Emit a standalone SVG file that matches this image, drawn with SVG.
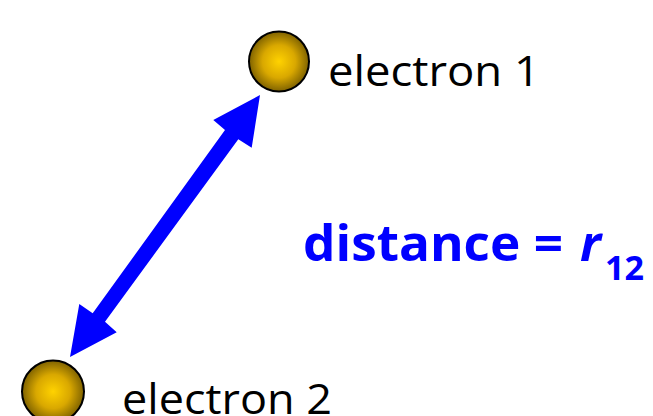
<svg xmlns="http://www.w3.org/2000/svg" width="653" height="416" viewBox="0 0 653 416">
<defs>
<radialGradient id="ball" cx="50%" cy="50%" r="50%">
<stop offset="0" stop-color="#FFD200"/>
<stop offset="0.55" stop-color="#D9A800"/>
<stop offset="1" stop-color="#7F6200"/>
</radialGradient>
<style>
.ball{fill:url(#ball);stroke:#000;stroke-width:2}
.lbl{font-family:"Open Sans","Liberation Sans",sans-serif;font-size:42px;fill:#000}
.dist{font-family:"Open Sans","Liberation Sans",sans-serif;font-weight:bold;fill:#0000FF}
.arrow{fill:#0000FF}
</style>
</defs>
<rect width="653" height="416" fill="#fff"/>
<g id="connectors">
<polygon class="arrow" points="260,95 251.7,147.7 238.3,139.3 105,321.7 116.7,332.3 70,357 79.3,304 92.7,313.3 225,130 213.3,120"/>
</g>
<g id="electron1">
<circle class="ball" cx="279" cy="61.5" r="30"/>
<text class="lbl" x="328" y="86" textLength="212" lengthAdjust="spacingAndGlyphs">electron 1</text>
</g>
<g id="electron2">
<circle class="ball" cx="53" cy="391.5" r="31"/>
<text class="lbl" x="122" y="414" textLength="210" lengthAdjust="spacingAndGlyphs">electron 2</text>
</g>
<g id="distance">
<text class="dist" x="303" y="261" font-size="50" textLength="260" lengthAdjust="spacingAndGlyphs">distance =</text>
<text class="dist" x="580" y="261" font-size="50" font-style="italic">r</text>
<text class="dist" x="605" y="280" font-size="34" textLength="39" lengthAdjust="spacingAndGlyphs">12</text>
</g>
</svg>
